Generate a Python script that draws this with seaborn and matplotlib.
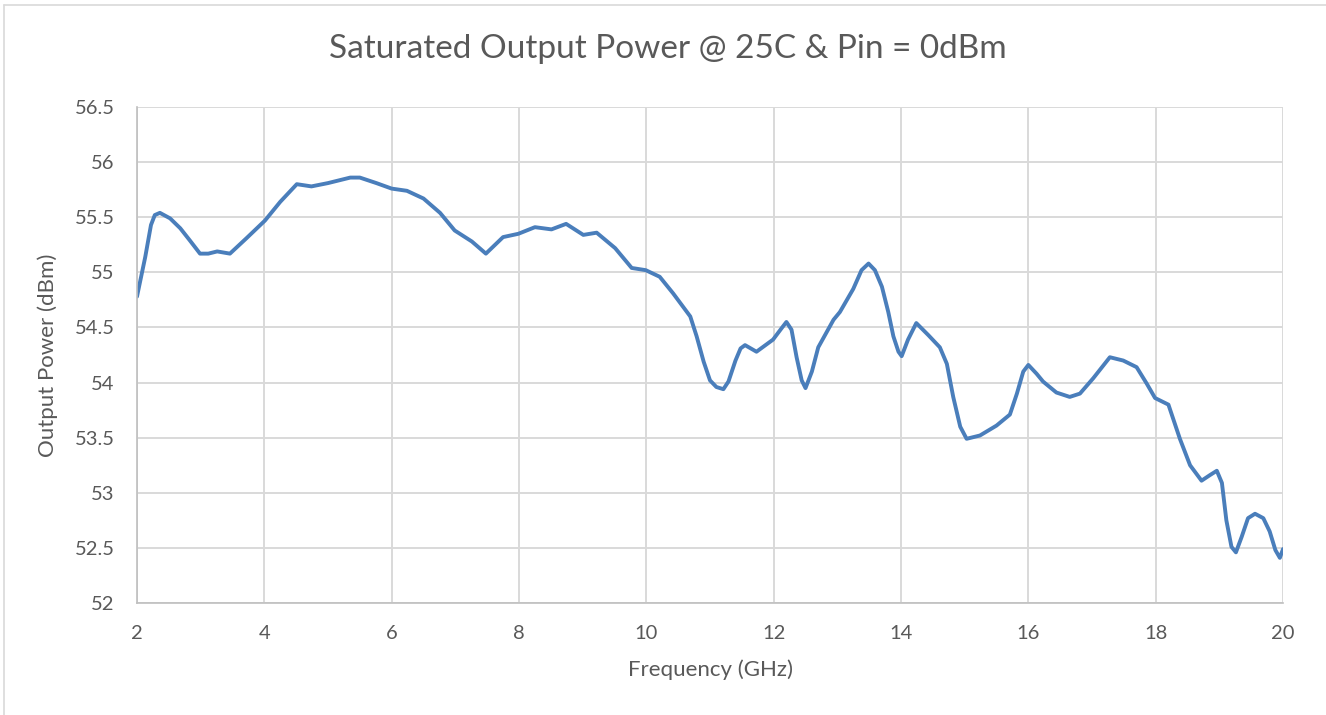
"""
Saturated output power vs frequency line chart.
"""

import matplotlib

matplotlib.use("Agg")

import pandas as pd
import seaborn as sns
import matplotlib.pyplot as plt
from matplotlib.lines import Line2D


FREQUENCY_GHZ: list[float] = [
    2.00, 2.13, 2.22, 2.28, 2.36, 2.52, 2.68, 2.83, 2.99, 3.12,
    3.26, 3.46, 3.72, 4.01, 4.25, 4.51, 4.74, 5.00, 5.35, 5.50,
    5.76, 6.00, 6.24, 6.50, 6.76, 6.99, 7.26, 7.48, 7.75, 7.99,
    8.25, 8.51, 8.74, 9.01, 9.22, 9.51, 9.77, 9.99, 10.21, 10.42,
    10.69, 10.79, 10.90, 11.00, 11.10, 11.21, 11.29, 11.40, 11.48, 11.55,
    11.73, 11.99, 12.12, 12.20, 12.28, 12.36, 12.44, 12.50, 12.60, 12.70,
    12.94, 13.04, 13.25, 13.38, 13.49, 13.59, 13.70, 13.80, 13.88, 13.96,
    14.01, 14.11, 14.24, 14.43, 14.61, 14.72, 14.82, 14.93, 15.03, 15.24,
    15.50, 15.71, 15.82, 15.92, 16.00, 16.13, 16.23, 16.44, 16.65, 16.81,
    17.02, 17.28, 17.49, 17.70, 17.86, 17.99, 18.20, 18.38, 18.54, 18.72,
    18.85, 18.96, 19.04, 19.11, 19.19, 19.26, 19.35, 19.45, 19.56, 19.69,
    19.79, 19.88, 19.95, 20.00,
]

OUTPUT_POWER_DBM: list[float] = [
    54.78, 55.14, 55.43, 55.52, 55.54, 55.49, 55.40, 55.29, 55.17, 55.17,
    55.19, 55.17, 55.31, 55.47, 55.64, 55.80, 55.78, 55.81, 55.86, 55.86,
    55.81, 55.76, 55.74, 55.67, 55.54, 55.38, 55.28, 55.17, 55.32, 55.35,
    55.41, 55.39, 55.44, 55.34, 55.36, 55.22, 55.04, 55.02, 54.96, 54.81,
    54.60, 54.42, 54.19, 54.02, 53.96, 53.94, 54.01, 54.20, 54.31, 54.34,
    54.28, 54.39, 54.49, 54.55, 54.48, 54.23, 54.02, 53.95, 54.10, 54.32,
    54.57, 54.64, 54.85, 55.02, 55.08, 55.02, 54.87, 54.64, 54.42, 54.28,
    54.24, 54.39, 54.54, 54.43, 54.32, 54.17, 53.87, 53.60, 53.49, 53.52,
    53.61, 53.71, 53.90, 54.10, 54.16, 54.08, 54.01, 53.91, 53.87, 53.90,
    54.04, 54.23, 54.20, 54.14, 53.99, 53.86, 53.80, 53.49, 53.25, 53.11,
    53.16, 53.20, 53.09, 52.75, 52.51, 52.46, 52.60, 52.77, 52.81, 52.77,
    52.65, 52.48, 52.41, 52.49,
]

X_TICKS: list[int] = [2, 4, 6, 8, 10, 12, 14, 16, 18, 20]
Y_TICKS: list[float] = [52, 52.5, 53, 53.5, 54, 54.5, 55, 55.5, 56, 56.5]
Y_TICK_LABELS: list[str] = [
    "52", "52.5", "53", "53.5", "54", "54.5", "55", "55.5", "56", "56.5"
]

TEXT_COLOR = "#595959"
GRID_COLOR = "#d9d9d9"
LINE_COLOR = "#4a7ebb"


def create_dataframe() -> pd.DataFrame:
    """
    Build the frequency / power table.
    """
    return pd.DataFrame(
        {
            "Frequency (GHz)": FREQUENCY_GHZ,
            "Output Power (dBm)": OUTPUT_POWER_DBM,
        }
    )


def create_lineplot(dataframe: pd.DataFrame) -> None:
    """
    Draw the output power curve and save it.
    """
    sns.set_theme(style="whitegrid")
    plt.rcParams["font.family"] = ["Lato", "DejaVu Sans"]

    fig = plt.figure(figsize=(13.26, 7.15), dpi=100)
    ax = fig.add_axes([0.1033, 0.1566, 0.8643, 0.6937])

    sns.lineplot(
        data=dataframe,
        x="Frequency (GHz)",
        y="Output Power (dBm)",
        color=LINE_COLOR,
        linewidth=2.8,
        ax=ax,
    )
    ax.lines[0].set_solid_joinstyle("round")

    ax.set_xlim(2, 20)
    ax.set_ylim(52, 56.5)
    ax.set_xticks(X_TICKS)
    ax.set_yticks(Y_TICKS)
    ax.set_yticklabels(Y_TICK_LABELS)

    ax.grid(True, color=GRID_COLOR, linewidth=1.4)
    ax.tick_params(
        axis="both", length=0, labelsize=14.5, colors=TEXT_COLOR
    )
    ax.tick_params(axis="x", pad=16)
    ax.tick_params(axis="y", pad=16)

    for side in ["top", "right"]:
        ax.spines[side].set_visible(False)
    for side in ["bottom", "left"]:
        ax.spines[side].set_color("#bfbfbf")
        ax.spines[side].set_linewidth(1.2)

    ax.set_xlabel(
        "Frequency (GHz)", fontsize=16, color=TEXT_COLOR, labelpad=12
    )
    ax.set_ylabel(
        "Output Power (dBm)", fontsize=16, color=TEXT_COLOR, labelpad=12
    )

    fig.text(
        0.504,
        0.932,
        "Saturated Output Power @ 25C & Pin = 0dBm",
        ha="center",
        va="center",
        fontsize=24,
        color=TEXT_COLOR,
    )

    # thin chart-area border (top and left edges visible in the crop)
    fig.add_artist(
        Line2D([0.003, 1.0], [0.993, 0.993], color=GRID_COLOR, lw=1.2,
               transform=fig.transFigure)
    )
    fig.add_artist(
        Line2D([0.003, 0.003], [0.0, 0.993], color=GRID_COLOR, lw=1.2,
               transform=fig.transFigure)
    )

    fig.savefig("out.png", dpi=100, facecolor="white")


def main() -> None:
    """
    Execute the chart build.
    """
    create_lineplot(create_dataframe())


if __name__ == "__main__":
    main()
